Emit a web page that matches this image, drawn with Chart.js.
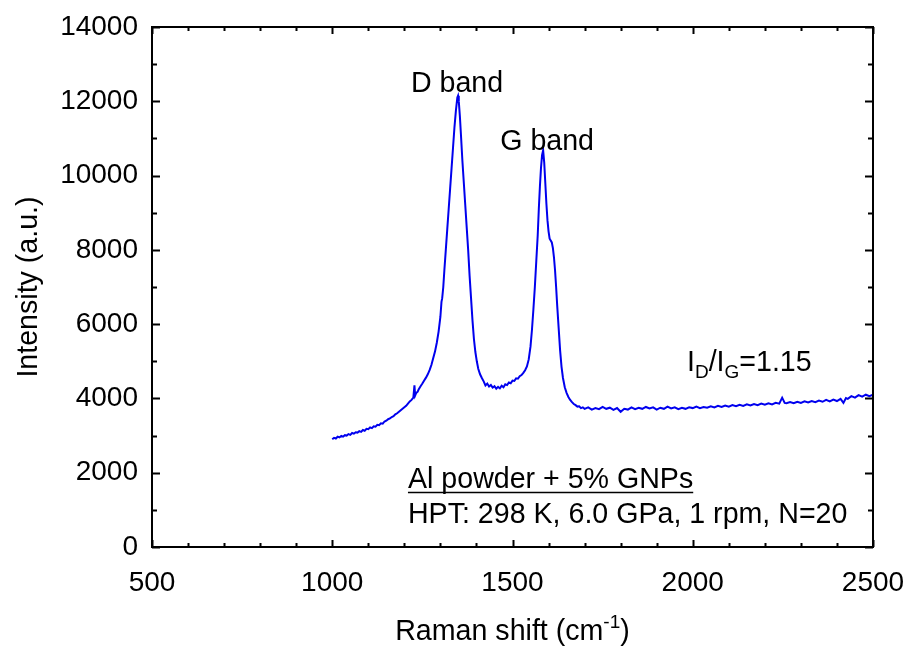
<!DOCTYPE html>
<html lang="en">
<head>
    <meta charset="UTF-8">
    <title>Raman spectrum</title>
    <script src="https://cdn.jsdelivr.net/npm/chart.js"></script>
    <style>
        body { margin: 0; background: #fff; }
        #wrap { width: 911px; height: 648px; }
    </style>
</head>
<body>
<div id="wrap"><canvas id="raman" width="911" height="648"></canvas></div>
<script>
    // Raman shift (cm-1) and intensity (a.u.)
    const shifts = [
        1000, 1005, 1010, 1015, 1020, 1025, 1030, 1035, 1040, 1045, 1050, 1055, 1060, 1065, 1070, 1075,
        1080, 1085, 1090, 1095, 1100, 1105, 1110, 1115, 1120, 1125, 1130, 1135, 1140, 1145, 1150, 1155,
        1160, 1165, 1170, 1175, 1180, 1185, 1190, 1195, 1200, 1205, 1210, 1215, 1220, 1225, 1228, 1230,
        1233, 1237, 1240, 1245, 1250, 1255, 1260, 1265, 1270, 1275, 1280, 1285, 1290, 1295, 1300, 1303,
        1305, 1308, 1311, 1315, 1319, 1323, 1327, 1331, 1335, 1339, 1343, 1347, 1349, 1351, 1354, 1357,
        1361, 1365, 1369, 1373, 1377, 1381, 1385, 1389, 1393, 1397, 1401, 1405, 1410, 1415, 1420, 1425,
        1430, 1435, 1440, 1445, 1450, 1455, 1460, 1465, 1470, 1475, 1480, 1485, 1490, 1495, 1500, 1505,
        1510, 1515, 1520, 1525, 1530, 1535, 1540, 1545, 1550, 1554, 1558, 1562, 1566, 1570, 1573, 1576,
        1579, 1582, 1585, 1588, 1591, 1594, 1597, 1600, 1603, 1606, 1609, 1612, 1615, 1618, 1621, 1624,
        1628, 1632, 1636, 1640, 1645, 1650, 1655, 1660, 1665, 1670, 1675, 1680, 1685, 1690, 1695, 1700,
        1710, 1720, 1730, 1740, 1750, 1760, 1770, 1780, 1790, 1800, 1810, 1820, 1830, 1840, 1850, 1860,
        1870, 1880, 1890, 1900, 1910, 1920, 1930, 1940, 1950, 1960, 1970, 1980, 1990, 2000, 2010, 2020,
        2030, 2040, 2050, 2060, 2070, 2080, 2090, 2100, 2110, 2120, 2130, 2140, 2150, 2160, 2170, 2180,
        2190, 2200, 2210, 2220, 2230, 2240, 2248, 2255, 2260, 2270, 2280, 2290, 2300, 2310, 2320, 2330,
        2340, 2350, 2360, 2370, 2380, 2390, 2400, 2410, 2418, 2425, 2430, 2440, 2450, 2460, 2470, 2480,
        2490, 2500
    ];
    const intensities = [
        2900, 2940, 2920, 2970, 2950, 2990, 2970, 3010, 3000, 3040, 3020, 3070, 3050, 3090, 3080, 3120,
        3100, 3150, 3130, 3180, 3170, 3220, 3200, 3250, 3240, 3290, 3280, 3330, 3320, 3380, 3400, 3440,
        3460, 3500, 3520, 3570, 3600, 3640, 3680, 3720, 3760, 3800, 3860, 3920, 3960, 4020, 4350, 4080,
        4150, 4180, 4250, 4330, 4400, 4480, 4560, 4650, 4760, 4900, 5080, 5260, 5500, 5800, 6200, 6600,
        6700, 7000, 7450, 8000, 8550, 9100, 9650, 10200, 10750, 11300, 11750, 12100, 12150, 12000, 11600, 11100,
        10400, 9800, 9200, 8600, 8000, 7300, 6700, 6100, 5600, 5250, 5000, 4800, 4650, 4550, 4460, 4350,
        4400, 4320, 4360, 4290, 4330, 4260, 4310, 4270, 4340, 4300, 4380, 4360, 4430, 4410, 4480, 4470,
        4540, 4530, 4600, 4630, 4690, 4760, 4860, 5050, 5400, 5850, 6400, 7000, 7700, 8400, 9100, 9700,
        10200, 10550, 10680, 10350, 9800, 9250, 8800, 8500, 8300, 8250, 8200, 8050, 7800, 7450, 7000, 6500,
        5900, 5300, 4850, 4550, 4300, 4150, 4040, 3960, 3900, 3850, 3820, 3780, 3790, 3740, 3760, 3720,
        3760, 3700, 3740, 3710, 3770, 3720, 3750, 3690, 3740, 3640, 3720, 3700, 3760, 3710, 3750, 3720,
        3770, 3730, 3760, 3700, 3750, 3720, 3780, 3730, 3760, 3710, 3750, 3720, 3760, 3740, 3780, 3740,
        3770, 3750, 3790, 3760, 3800, 3770, 3810, 3780, 3820, 3790, 3830, 3800, 3840, 3810, 3850, 3820,
        3860, 3830, 3870, 3840, 3880, 3860, 4020, 3880, 3870, 3900, 3870, 3910, 3880, 3920, 3890, 3930,
        3900, 3940, 3910, 3960, 3920, 3970, 3930, 3990, 3880, 4010, 3990, 4060, 4020, 4090, 4050, 4100,
        4060, 4100
    ];
    const xTicks = [500, 1000, 1500, 2000, 2500];
    const yTicks = [0, 2000, 4000, 6000, 8000, 10000, 12000, 14000];

    const FONT = "'Liberation Sans', Arial, sans-serif";
    const FONT_SIZE = 28;
    const NOTE_SIZE = 28.6;
    const SMALL_SIZE = 19;

    // draw a run of text pieces, some of them raised or lowered
    function drawRich(ctx, parts, x, y, align) {
        ctx.textBaseline = 'alphabetic';
        ctx.textAlign = 'left';
        let total = 0;
        parts.forEach(p => {
            ctx.font = (p.small ? SMALL_SIZE : NOTE_SIZE) + 'px ' + FONT;
            total += ctx.measureText(p.t).width;
        });
        let cx = align === 'center' ? x - total / 2 : x;
        parts.forEach(p => {
            ctx.font = (p.small ? SMALL_SIZE : NOTE_SIZE) + 'px ' + FONT;
            let dy = p.sub ? 7 : (p.sup ? -12 : 0);
            ctx.fillText(p.t, cx, y + dy);
            cx += ctx.measureText(p.t).width;
        });
        return total;
    }

    const framePlugin = {
        id: 'frame',
        afterDraw(chart) {
            const { ctx, chartArea: a, scales: { x, y } } = chart;
            ctx.save();
            ctx.strokeStyle = '#000';
            ctx.lineWidth = 2;
            ctx.strokeRect(a.left, a.top, a.right - a.left, a.bottom - a.top);

            // inward ticks on all four sides
            ctx.beginPath();
            for (let v = 500; v <= 2500; v += 100) {
                const px = Math.round(x.getPixelForValue(v)) + 0.5;
                const len = v % 500 === 0 ? 7 : 4;
                ctx.moveTo(px, a.bottom); ctx.lineTo(px, a.bottom - len);
                ctx.moveTo(px, a.top); ctx.lineTo(px, a.top + len);
            }
            for (let v = 0; v <= 14000; v += 1000) {
                const py = Math.round(y.getPixelForValue(v)) + 0.5;
                const len = v % 2000 === 0 ? 8 : 5;
                ctx.moveTo(a.left, py); ctx.lineTo(a.left + len, py);
                ctx.moveTo(a.right, py); ctx.lineTo(a.right - len, py);
            }
            ctx.stroke();

            ctx.fillStyle = '#000';
            // axis titles
            drawRich(ctx, [{ t: 'Raman shift (cm' }, { t: '-1', small: true, sup: true }, { t: ')' }],
                (a.left + a.right) / 2, 640, 'center');
            ctx.save();
            ctx.translate(37, (a.top + a.bottom) / 2);
            ctx.rotate(-Math.PI / 2);
            drawRich(ctx, [{ t: 'Intensity (a.u.)' }], 0, 0, 'center');
            ctx.restore();

            // peak labels
            drawRich(ctx, [{ t: 'D band' }], x.getPixelForValue(1346), y.getPixelForValue(12250), 'center');
            drawRich(ctx, [{ t: 'G band' }], x.getPixelForValue(1596), y.getPixelForValue(10700), 'center');
            drawRich(ctx, [{ t: 'I' }, { t: 'D', small: true, sub: true }, { t: '/I' }, { t: 'G', small: true, sub: true }, { t: '=1.15' }],
                x.getPixelForValue(1984), y.getPixelForValue(4740), 'left');

            // sample description
            const lx = x.getPixelForValue(1210);
            const w = drawRich(ctx, [{ t: 'Al powder + 5% GNPs' }], lx, y.getPixelForValue(1580), 'left');
            const uy = Math.round(y.getPixelForValue(1580)) + 4.5;
            ctx.lineWidth = 1.5;
            ctx.beginPath();
            ctx.moveTo(lx, uy); ctx.lineTo(lx + w, uy);
            ctx.stroke();
            drawRich(ctx, [{ t: 'HPT: 298 K, 6.0 GPa, 1 rpm, N=20' }], lx, y.getPixelForValue(640), 'left');
            ctx.restore();
        }
    };

    const points = shifts.map((s, i) => ({ x: s, y: intensities[i] }));

    new Chart(document.getElementById('raman'), {
        type: 'scatter',
        data: {
            datasets: [{
                data: points,
                showLine: true,
                borderColor: '#0000ee',
                borderWidth: 2,
                pointRadius: 0,
                tension: 0
            }]
        },
        options: {
            responsive: false,
            animation: false,
            layout: { padding: { top: 27, right: 38, left: 0, bottom: 0 } },
            plugins: { legend: { display: false }, tooltip: { enabled: false } },
            scales: {
                x: {
                    type: 'linear',
                    min: 500,
                    max: 2500,
                    afterBuildTicks: s => { s.ticks = xTicks.map(v => ({ value: v })); },
                    afterFit: s => { s.height = 101; s.paddingLeft = 0; s.paddingRight = 0; },
                    grid: { display: false, drawTicks: false },
                    border: { display: false },
                    ticks: { color: '#000', padding: 19, font: { family: FONT, size: FONT_SIZE }, callback: v => String(v) }
                },
                y: {
                    type: 'linear',
                    min: 0,
                    max: 14000,
                    afterBuildTicks: s => { s.ticks = yTicks.map(v => ({ value: v })); },
                    afterFit: s => { s.width = 152; s.paddingTop = 0; s.paddingBottom = 0; },
                    grid: { display: false, drawTicks: false },
                    border: { display: false },
                    ticks: { color: '#000', padding: 14, font: { family: FONT, size: FONT_SIZE }, callback: v => String(v) }
                }
            }
        },
        plugins: [framePlugin]
    });
</script>
</body>
</html>
